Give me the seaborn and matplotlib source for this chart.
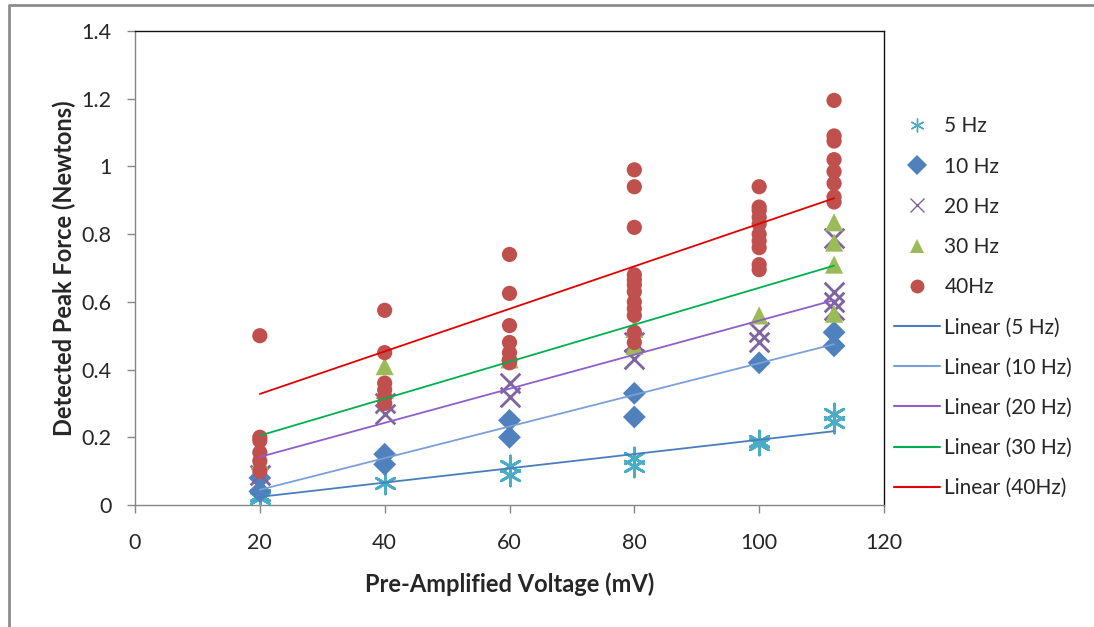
"""Peak force vs pre-amplified voltage, one scatter series per drive frequency
with its linear trendline (Excel-style chart)."""
import pandas as pd
import matplotlib
matplotlib.use("Agg")
import matplotlib.pyplot as plt
from matplotlib.lines import Line2D
import seaborn as sns

X_5HZ = [20, 20, 40, 60, 60, 80, 80, 100, 100, 112, 112]
Y_5HZ = [0.03, 0.02, 0.065, 0.115, 0.088, 0.14, 0.115, 0.19, 0.18, 0.27, 0.245]

X_10HZ = [20, 20, 40, 40, 60, 60, 80, 80, 100, 112, 112]
Y_10HZ = [0.08, 0.04, 0.15, 0.12, 0.25, 0.20, 0.33, 0.26, 0.42, 0.51, 0.47]

X_20HZ = [20, 40, 40, 60, 60, 80, 80, 100, 100, 112, 112, 112, 112]
Y_20HZ = [0.09, 0.30, 0.27, 0.36, 0.32, 0.48, 0.43, 0.51, 0.48, 0.79, 0.63, 0.60, 0.575]

X_30HZ = [20, 40, 40, 60, 60, 80, 80, 100, 112, 112, 112, 112]
Y_30HZ = [0.13, 0.41, 0.34, 0.45, 0.43, 0.52, 0.47, 0.56, 0.835, 0.775, 0.71, 0.565]

X_40HZ = [20, 20, 20, 20, 20, 20,
          40, 40, 40, 40, 40, 40,
          60, 60, 60, 60, 60, 60, 60,
          80, 80, 80, 80, 80, 80, 80, 80, 80, 80, 80, 80,
          100, 100, 100, 100, 100, 100, 100, 100, 100, 100,
          112, 112, 112, 112, 112, 112, 112, 112]
Y_40HZ = [0.50, 0.20, 0.19, 0.155, 0.13, 0.10,
          0.575, 0.45, 0.36, 0.34, 0.32, 0.30,
          0.74, 0.625, 0.53, 0.48, 0.45, 0.43, 0.42,
          0.99, 0.94, 0.82, 0.68, 0.665, 0.65, 0.63, 0.60, 0.58, 0.56, 0.51, 0.48,
          0.94, 0.88, 0.87, 0.85, 0.83, 0.80, 0.78, 0.76, 0.71, 0.695,
          1.195, 1.09, 1.075, 1.02, 0.985, 0.95, 0.91, 0.895]

SERIES = ["5 Hz", "10 Hz", "20 Hz", "30 Hz", "40Hz"]
POINTS = {
    "5 Hz": (X_5HZ, Y_5HZ),
    "10 Hz": (X_10HZ, Y_10HZ),
    "20 Hz": (X_20HZ, Y_20HZ),
    "30 Hz": (X_30HZ, Y_30HZ),
    "40Hz": (X_40HZ, Y_40HZ),
}

# trendline ends (value at first and last voltage)
TREND_X = [20, 112]
TREND_START = [0.024, 0.045, 0.142, 0.205, 0.328]
TREND_END = [0.218, 0.475, 0.605, 0.707, 0.906]

# Excel 2007 default series colours
MARKER_COLORS = {"5 Hz": "#4BACC6", "10 Hz": "#4F81BD", "20 Hz": "#8064A2",
                 "30 Hz": "#9BBB59", "40Hz": "#C0504D"}
LINE_COLORS = {"5 Hz": "#4A7EBB", "10 Hz": "#7BA0D8", "20 Hz": "#8E5FC8",
               "30 Hz": "#00B050", "40Hz": "#E00000"}
MARKERS = {"5 Hz": (6, 2, 0), "10 Hz": "D", "20 Hz": "x", "30 Hz": "^", "40Hz": "o"}
SIZES = {"5 Hz": 230, "10 Hz": 135, "20 Hz": 200, "30 Hz": 170, "40Hz": 120}


def main():
    sns.set_theme(style="white")
    plt.rcParams["font.family"] = ["Lato", "DejaVu Sans"]

    fig = plt.figure(figsize=(10.94, 6.27), dpi=100)
    ax = fig.add_axes([135 / 1094, 1 - 505 / 627, 749 / 1094, 474 / 627])

    handles = []
    for name in SERIES:
        xs, ys = POINTS[name]
        df = pd.DataFrame({"x": xs, "y": ys})
        filled = name not in ("5 Hz", "20 Hz")
        kw = dict(edgecolor="none") if filled else dict(linewidth=2.0)
        sns.scatterplot(data=df, x="x", y="y", ax=ax, color=MARKER_COLORS[name],
                        marker=MARKERS[name], s=SIZES[name], legend=False,
                        zorder=3, **kw)
        handles.append(Line2D([], [], linestyle="none", marker=MARKERS[name],
                              color=MARKER_COLORS[name], markersize=10,
                              markeredgewidth=1.0 if not filled else 0,
                              label=name))

    for i, name in enumerate(SERIES):
        trend = pd.DataFrame({"x": TREND_X, "y": [TREND_START[i], TREND_END[i]]})
        sns.lineplot(data=trend, x="x", y="y", ax=ax, color=LINE_COLORS[name],
                     linewidth=1.3, legend=False, zorder=4)
        handles.append(Line2D([], [], color=LINE_COLORS[name], linewidth=1.5,
                              label=f"Linear ({name})"))

    ax.set_xlim(0, 120)
    ax.set_ylim(0, 1.4)
    ax.set_xticks(range(0, 121, 20))
    ax.set_yticks([0, 0.2, 0.4, 0.6, 0.8, 1, 1.2, 1.4])
    ax.set_yticklabels(["0", "0.2", "0.4", "0.6", "0.8", "1", "1.2", "1.4"])
    ax.tick_params(axis="both", direction="out", length=6, width=1,
                   color="#868686", labelsize=15.5, left=True, bottom=True)
    ax.tick_params(axis="x", pad=14)
    ax.tick_params(axis="y", pad=11)
    for side in ("left", "bottom"):
        ax.spines[side].set_color("#868686")
    for side in ("top", "right"):
        ax.spines[side].set_color("#111111")
    for sp in ax.spines.values():
        sp.set_linewidth(1.0)

    ax.set_xlabel("Pre-Amplified Voltage (mV)", fontsize=17, fontweight="bold",
                  labelpad=14)
    ax.set_ylabel("Detected Peak Force (Newtons)", fontsize=17, fontweight="bold",
                  labelpad=4)

    fig.legend(handles=handles, loc="upper left", bbox_to_anchor=(886 / 1094, 1 - 108 / 627),
               frameon=False, fontsize=15, handlelength=2.2, handletextpad=0.2,
               labelspacing=0.97, borderaxespad=0)

    # outer chart-area border (only top and left edges are in frame)
    fig.add_artist(Line2D([9 / 1094, 9 / 1094, 1], [0, 1 - 5 / 627, 1 - 5 / 627],
                          transform=fig.transFigure, color="#8c8c8c", linewidth=2))

    fig.savefig("out.png", dpi=100)
    plt.close(fig)


if __name__ == "__main__":
    main()
